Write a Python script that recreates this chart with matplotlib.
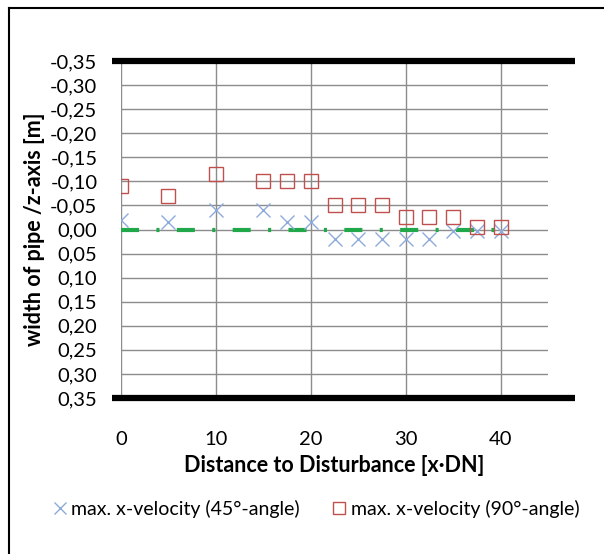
import numpy as np
import matplotlib.pyplot as plt
from matplotlib.lines import Line2D

plt.rcParams['font.family'] = ['Lato', 'DejaVu Sans']
plt.rcParams['lines.scale_dashes'] = False

# distance to disturbance [x*DN]
dist = [0, 5, 10, 15, 17.5, 20, 22.5, 25, 27.5, 30, 32.5, 35, 37.5, 40]
# position of max. x-velocity across the pipe [m]
z_45 = [-0.02, -0.015, -0.04, -0.04, -0.015, -0.015, 0.02, 0.02, 0.02, 0.02, 0.02, 0.003, 0.003, 0.003]
z_90 = [-0.09, -0.07, -0.115, -0.10, -0.10, -0.10, -0.05, -0.05, -0.05, -0.025, -0.025, -0.025, -0.005, -0.005]

pipe_wall = [-0.35, 0.35]
center_x = [0, 40]
wall_x = [-0.95, 47.8]

yticks = np.round(np.arange(-0.35, 0.351, 0.05), 2)
ytick_labels = [f"{v:.2f}".replace('.', ',') if v < 0 else f"{abs(v):.2f}".replace('.', ',') for v in yticks]
xticks = [0, 10, 20, 30, 40]

fig = plt.figure(figsize=(6.04, 5.54), dpi=100)
ax = fig.add_axes([121 / 604, 1 - 398 / 554, 427 / 604, 337 / 554])

ax.set_xlim(0, 45)
ax.set_ylim(0.35, -0.35)
ax.set_yticks(yticks)
ax.set_yticklabels(ytick_labels)
ax.set_xticks(xticks)
ax.tick_params(length=0, labelsize=14.5, colors='black')
ax.tick_params(axis='y', pad=17)
ax.tick_params(axis='x', pad=24)
for s in ax.spines.values():
    s.set_visible(False)
ax.grid(True, color='#8c8c8c', linewidth=1.0)
ax.set_axisbelow(True)

# pipe walls and centerline
for w in pipe_wall:
    ax.plot(wall_x, [w, w], color='black', linewidth=4.5, solid_capstyle='butt', clip_on=False, zorder=3)
cl, = ax.plot(center_x, [0, 0], color='#21A84A', linewidth=3.0, zorder=3)
cl.set_dashes([13, 12.5, 2.2, 12.5])
cl.set_dash_capstyle('butt')

ax.plot(dist, z_45, linestyle='none', marker='x', markersize=10, markeredgewidth=1.0,
        color='#8eaadb', label='max. x-velocity (45°-angle)', zorder=4)
ax.plot(dist, z_90, linestyle='none', marker='s', markersize=9.5, markeredgewidth=1.0,
        markerfacecolor='none', markeredgecolor='#c0504d', label='max. x-velocity (90°-angle)', zorder=4)

ax.set_xlabel('Distance to Disturbance [x·DN]', fontsize=15.5, fontweight='bold', labelpad=5)
ax.set_ylabel('width of pipe /z-axis [m]', fontsize=15.5, fontweight='bold', labelpad=4)

handles, labels = ax.get_legend_handles_labels()
fig.legend(handles, labels, loc='center', bbox_to_anchor=(0.524, 1 - 509 / 554), ncol=2,
           frameon=False, fontsize=14, handlelength=0.6, handletextpad=0.3, columnspacing=1.7,
           markerscale=0.85)

# chart border
fig.add_artist(Line2D([9 / 604, 9 / 604], [0, 1 - 8 / 554], color='black', linewidth=1.5))
fig.add_artist(Line2D([9 / 604, 1], [1 - 8 / 554, 1 - 8 / 554], color='black', linewidth=1.5))

plt.savefig('out.png', dpi=100)
